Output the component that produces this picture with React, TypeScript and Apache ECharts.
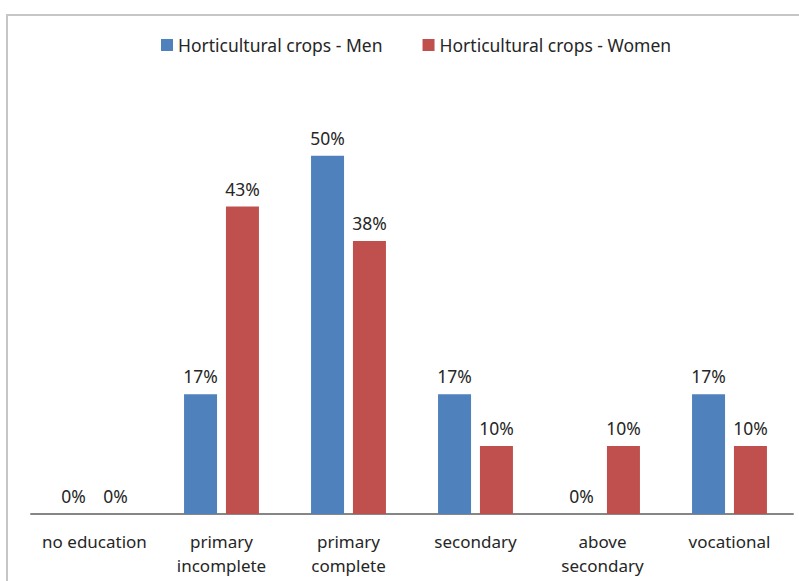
import React, { useEffect, useRef } from "react";
import * as echarts from "echarts";

const categories = [
  "no education",
  "primary\nincomplete",
  "primary\ncomplete",
  "secondary",
  "above\nsecondary",
  "vocational",
];
const menValues = [0, 16.7, 50, 16.7, 0, 16.7];
const womenValues = [0, 42.9, 38.1, 9.5, 9.5, 9.5];
const seriesNames = ["Horticultural crops - Men", "Horticultural crops - Women"];

const FONT = "Noto Sans";

export default function App() {
  const ref = useRef<HTMLDivElement>(null);
  useEffect(() => {
    if (!ref.current) return;
    const chart = echarts.init(ref.current, undefined, { renderer: "svg" });
    const label = {
      show: true,
      position: "top" as const,
      distance: 9,
      fontFamily: FONT,
      fontSize: 17.5,
      color: "#262626",
      formatter: (p: any) => Math.round(p.value) + "%",
    };
    chart.setOption({
      animation: false,
      backgroundColor: "#ffffff",
      graphic: [
        {
          type: "rect",
          shape: { x: 7, y: 15, width: 820, height: 620 },
          style: { fill: "none", stroke: "#c6c6c6", lineWidth: 2 },
          silent: true,
        },
      ],
      legend: {
        top: 31,
        left: 156,
        itemWidth: 12,
        itemHeight: 12,
        itemGap: 40,
        icon: "rect",
        textStyle: { fontFamily: FONT, fontSize: 17.5, color: "#262626" },
        data: seriesNames,
      },
      grid: { left: 31, right: 6, top: 84, bottom: 67, containLabel: false },
      xAxis: {
        type: "category",
        data: categories,
        axisLine: { lineStyle: { color: "#868686", width: 2 } },
        axisTick: { show: false },
        axisLabel: {
          fontFamily: FONT,
          fontSize: 17,
          color: "#262626",
          margin: 15,
          lineHeight: 24,
          interval: 0,
        },
      },
      yAxis: {
        type: "value",
        min: 0,
        max: 60,
        show: false,
        splitLine: { show: false },
      },
      series: [
        {
          name: seriesNames[0],
          type: "bar",
          data: menValues,
          barWidth: 33,
          barGap: "27%",
          itemStyle: { color: "#4F81BD" },
          label,
        },
        {
          name: seriesNames[1],
          type: "bar",
          data: womenValues,
          barWidth: 33,
          barGap: "27%",
          itemStyle: { color: "#C0504D" },
          label,
        },
      ],
    });
    return () => chart.dispose();
  }, []);
  return (
    <div
      ref={ref}
      style={{ position: "absolute", left: 0, top: 0, width: 799, height: 581 }}
    />
  );
}
